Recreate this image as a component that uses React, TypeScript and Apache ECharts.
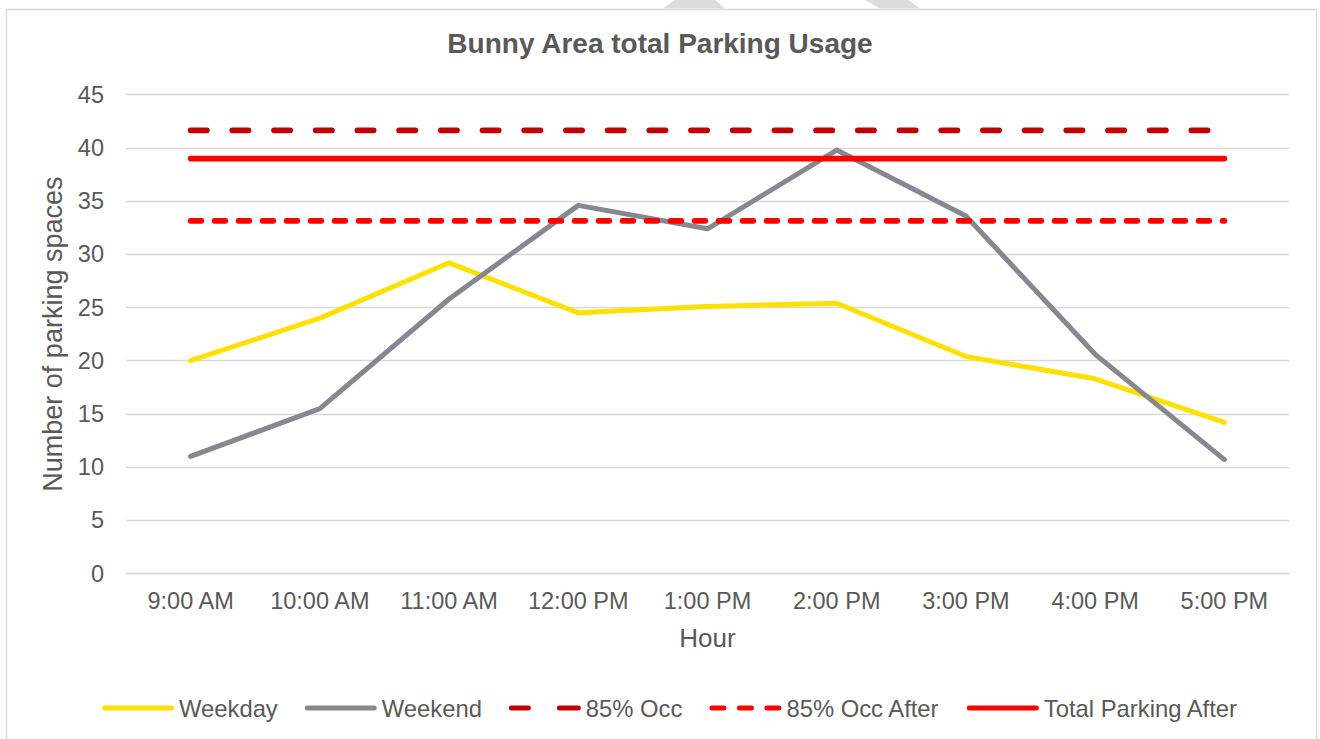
import React, { useEffect, useRef } from "react";
import * as echarts from "echarts";

const hours = ["9:00 AM", "10:00 AM", "11:00 AM", "12:00 PM", "1:00 PM", "2:00 PM", "3:00 PM", "4:00 PM", "5:00 PM"];
const weekday = [20.0, 24.0, 29.2, 24.5, 25.1, 25.4, 20.4, 18.3, 14.2];
const weekend = [11.0, 15.5, 25.8, 34.6, 32.4, 39.8, 33.6, 20.6, 10.7];
const occ85 = [41.65, 41.65, 41.65, 41.65, 41.65, 41.65, 41.65, 41.65, 41.65];
const occ85After = [33.15, 33.15, 33.15, 33.15, 33.15, 33.15, 33.15, 33.15, 33.15];
const totalAfter = [39, 39, 39, 39, 39, 39, 39, 39, 39];
const yTicks = { min: 0, max: 45, interval: 5 };

const TXT = "#595959";
const FONT = "'Liberation Sans', Arial, sans-serif";

// rounded segment path for legend icons (height 5)
function seg(x0: number, x1: number) {
  const r = 2.5;
  return `M${x0 + r},0 H${x1 - r} A${r},${r} 0 0 1 ${x1 - r},5 H${x0 + r} A${r},${r} 0 0 1 ${x0 + r},0 Z`;
}
const iconSolid = "path://" + seg(0, 72);
const iconDash = "path://" + seg(0, 22) + " " + seg(48, 72);
const iconDot = "path://" + seg(0, 17) + " " + seg(27.5, 44.5) + " " + seg(55, 72);

export default function App() {
  const ref = useRef<HTMLDivElement>(null);
  useEffect(() => {
    const chart = echarts.init(ref.current!, null, { renderer: "svg" });
    chart.setOption({
      animation: false,
      backgroundColor: "#ffffff",
      textStyle: { fontFamily: FONT, color: TXT },
      title: {
        text: "Bunny Area total Parking Usage",
        left: "center",
        top: 24,
        textStyle: { fontFamily: FONT, fontSize: 28, fontWeight: "bold", color: TXT },
      },
      graphic: [
        {
          type: "polygon",
          shape: { points: [[663, 8.5], [675, 0], [715, 0], [725, 8.5]] },
          style: { fill: "#DCDCDC" },
          silent: true,
        },
        {
          type: "polygon",
          shape: { points: [[865, 0], [908, 0], [920, 8.5], [880, 8.5]] },
          style: { fill: "#DCDCDC" },
          silent: true,
        },
        {
          type: "rect",
          shape: { x: 6.5, y: 9.5, width: 1310, height: 760 },
          style: { fill: "none", stroke: "#D9D9D9", lineWidth: 1.3 },
          silent: true,
        },
      ],
      legend: {
        left: 97,
        top: 691,
        itemWidth: 72,
        itemHeight: 5.5,
        itemGap: 27,
        textStyle: { fontFamily: FONT, fontSize: 23.8, color: TXT },
        data: [
          { name: "Weekday", icon: iconSolid },
          { name: "Weekend", icon: iconSolid },
          { name: "85% Occ", icon: iconDash },
          { name: "85% Occ After", icon: iconDot },
          { name: "Total Parking After", icon: iconSolid },
        ],
      },
      grid: { left: 126, right: 31, top: 94.7, bottom: 165.5, containLabel: false },
      xAxis: {
        type: "category",
        data: hours,
        boundaryGap: true,
        name: "Hour",
        nameLocation: "middle",
        nameGap: 51,
        nameTextStyle: { fontFamily: FONT, fontSize: 26, color: TXT },
        axisLine: { show: true, lineStyle: { color: "#D9D9D9", width: 1.3 } },
        axisTick: { show: false },
        axisLabel: { interval: 0, margin: 15, fontFamily: FONT, fontSize: 23.5, color: TXT },
      },
      yAxis: {
        type: "value",
        min: yTicks.min,
        max: yTicks.max,
        interval: yTicks.interval,
        name: "Number of parking spaces",
        nameLocation: "middle",
        nameGap: 57,
        nameTextStyle: { fontFamily: FONT, fontSize: 27, color: TXT },
        axisLine: { show: false },
        axisTick: { show: false },
        axisLabel: { margin: 22, fontFamily: FONT, fontSize: 23.5, color: TXT },
        splitLine: { lineStyle: { color: "#D9D9D9", width: 1.3 } },
      },
      series: [
        {
          name: "Weekday",
          type: "line",
          data: weekday,
          symbol: "none",
          color: "#FFE000",
          lineStyle: { color: "#FFE000", width: 5, cap: "round", join: "round" },
        },
        {
          name: "Weekend",
          type: "line",
          data: weekend,
          symbol: "none",
          color: "#868790",
          lineStyle: { color: "#868790", width: 5, cap: "round", join: "round" },
        },
        {
          name: "85% Occ",
          type: "line",
          data: occ85,
          symbol: "none",
          color: "#C00000",
          lineStyle: { color: "#C00000", width: 5.8, cap: "round", type: [16.2, 25.5] },
        },
        {
          name: "85% Occ After",
          type: "line",
          data: occ85After,
          symbol: "none",
          color: "#FF0000",
          lineStyle: { color: "#FF0000", width: 5.8, cap: "round", type: [10.7, 13.3] },
        },
        {
          name: "Total Parking After",
          type: "line",
          data: totalAfter,
          symbol: "none",
          color: "#FF0000",
          lineStyle: { color: "#FF0000", width: 5.8, cap: "round" },
        },
      ],
    });
    return () => chart.dispose();
  }, []);
  return (
    <div
      ref={ref}
      style={{ position: "fixed", left: 0, top: 0, width: 1320, height: 739 }}
    />
  );
}
